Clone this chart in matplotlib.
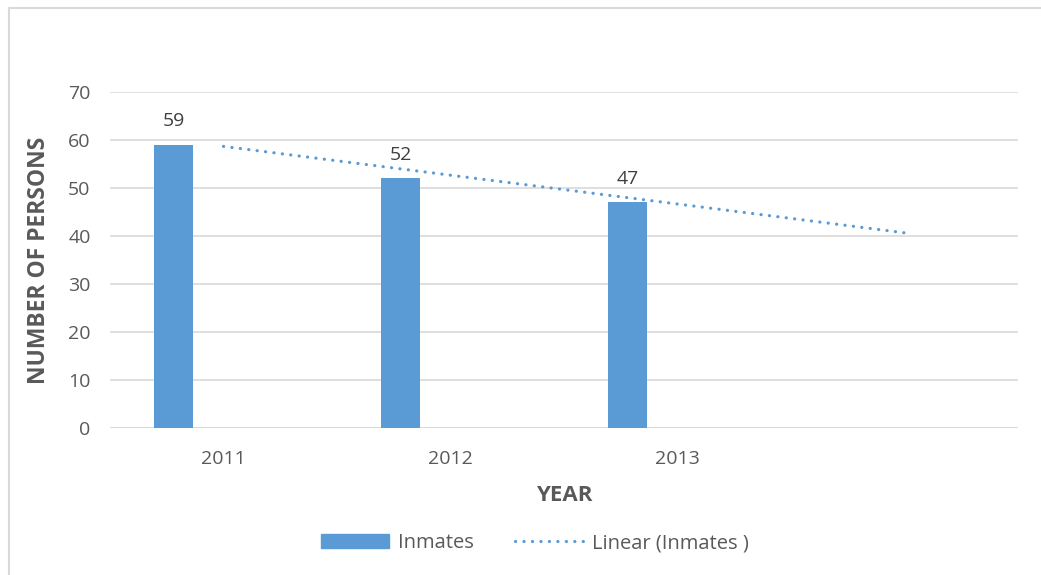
import numpy as np
import matplotlib.pyplot as plt
from matplotlib.patches import Rectangle
from matplotlib.lines import Line2D

years = ['2011', '2012', '2013', '']
inmates = [59, 52, 47]
yticks = [0, 10, 20, 30, 40, 50, 60, 70]

blue = '#5b9bd5'
grid_c = '#d9d9d9'
txt = '#595959'
dots = (0, (0.05, 2.6))

plt.rcParams['font.family'] = ['Open Sans', 'DejaVu Sans']

fig = plt.figure(figsize=(10.41, 5.75), dpi=100)
# chart border (only left and top edges fall inside the picture)
fig.add_artist(Line2D([8.5 / 1041, 8.5 / 1041, 1], [0, 1 - 7.5 / 575, 1 - 7.5 / 575],
                      transform=fig.transFigure, color='#d9d9d9', linewidth=1.5))

ax = fig.add_axes([110 / 1041, 1 - 428 / 575, 908 / 1041, 336 / 575])

x = np.arange(len(inmates))
ax.bar(x - 0.22, inmates, width=0.17, color=blue, zorder=3, label='Inmates')
for xi, v in zip(x, inmates):
    ax.text(xi - 0.22, v + 3.0, str(v), ha='center', va='bottom',
            fontsize=14, color='#404040')

# linear trendline, forward by one period
k, b = np.polyfit(x, inmates, 1)
xt = np.array([0, len(years) - 1])
ax.plot(xt, k * xt + b, linestyle=dots, dash_capstyle='round',
        color=blue, linewidth=2.3, zorder=4, label='Linear (Inmates )')

ax.set_xlim(-0.5, len(years) - 0.5)
ax.set_ylim(0, 70)
ax.set_yticks(yticks)
ax.set_xticks(range(len(years)))
ax.set_xticklabels(years)
ax.yaxis.grid(True, color=grid_c, linewidth=1.2, zorder=0)
ax.tick_params(length=0, labelsize=14, labelcolor=txt)
ax.tick_params(axis='x', pad=16)
ax.tick_params(axis='y', pad=14)
for s in ax.spines.values():
    s.set_visible(False)
ax.axhline(0, color=grid_c, linewidth=1.2, zorder=2)

ax.set_ylabel('NUMBER OF PERSONS', fontsize=16.5, fontweight='bold', color=txt, labelpad=12)
ax.set_xlabel('YEAR', fontsize=16, fontweight='bold', color=txt, labelpad=12)

handles = [Rectangle((0, 0), 1, 1, color=blue),
           Line2D([0], [0], linestyle=dots, dash_capstyle='round',
                  color=blue, linewidth=2.3)]
fig.legend(handles, ['Inmates', 'Linear (Inmates )'], loc='center',
           bbox_to_anchor=(535 / 1041, 1 - 543 / 575), ncol=2, frameon=False,
           fontsize=14.5, labelcolor=txt, handlelength=3.4, handleheight=0.7,
           columnspacing=2.0, handletextpad=0.45)

fig.savefig('out.png', dpi=100)
